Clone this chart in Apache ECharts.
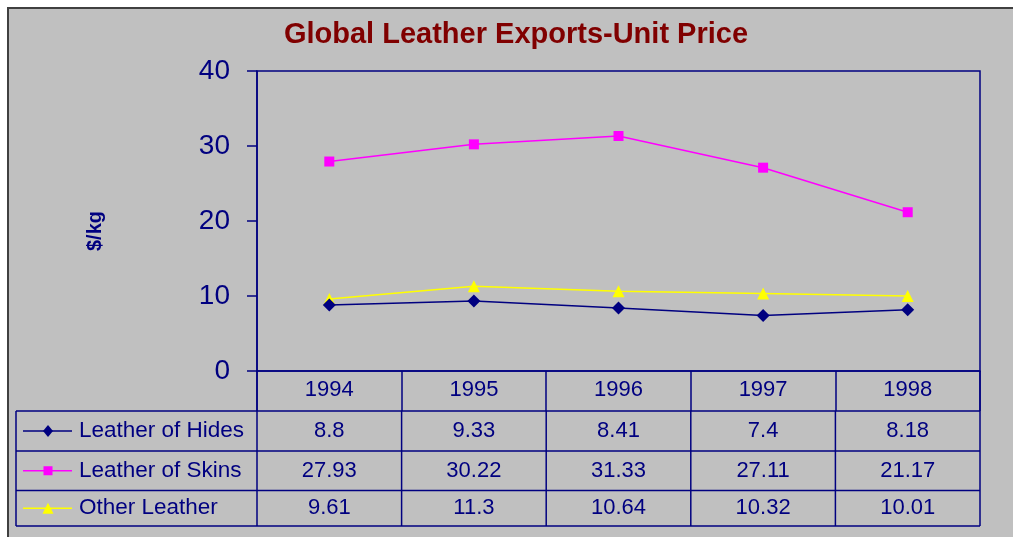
<!DOCTYPE html>
<html>
<head>
<meta charset="utf-8">
<script src="https://cdn.jsdelivr.net/npm/echarts@6/dist/echarts.min.js"></script>
<style>
    html, body { margin: 0; padding: 0; background: #fff; }
    #chart { width: 1013px; height: 537px; }
</style>
</head>
<body>
<div id="chart"></div>
<script>
// 数据
var years = ['1994', '1995', '1996', '1997', '1998'];
var seriesNames = ['Leather of Hides', 'Leather of Skins', 'Other Leather'];
var hides = [8.8, 9.33, 8.41, 7.4, 8.18];
var skins = [27.93, 30.22, 31.33, 27.11, 21.17];
var other = [9.61, 11.3, 10.64, 10.32, 10.01];
var yTicks = [0, 10, 20, 30, 40];

var navy = '#000080';
var font = "'Liberation Sans', Arial, sans-serif";
var colors = [navy, '#ff00ff', '#ffff00'];
var symbols = ['diamond', 'rect', 'triangle'];
var symbolSizes = [13, 10, 12];
var allData = [hides, skins, other];

var chart = echarts.init(document.getElementById('chart'));

var option = {
    backgroundColor: '#fff',
    animation: false,
    grid: {
        left: 257, top: 71, right: 33, bottom: 166,
        show: true, borderColor: navy, borderWidth: 1.5, backgroundColor: 'transparent'
    },
    xAxis: {
        type: 'category',
        data: years,
        boundaryGap: true,
        axisLine: { lineStyle: { color: navy, width: 1.5 } },
        axisTick: { show: true, interval: 0, length: 40, lineStyle: { color: navy, width: 1.5 } },
        axisLabel: { color: navy, fontSize: 22, fontFamily: font, margin: 8, interval: 0 }
    },
    yAxis: {
        type: 'value',
        min: yTicks[0],
        max: yTicks[yTicks.length - 1],
        interval: 10,
        axisLine: { show: true, lineStyle: { color: navy, width: 1.5 } },
        axisTick: { show: true, length: 10, lineStyle: { color: navy, width: 1.5 } },
        axisLabel: { color: navy, fontSize: 28, fontFamily: font, margin: 27 },
        splitLine: { show: false }
    },
    series: seriesNames.map(function (name, i) {
        return {
            name: name,
            type: 'line',
            data: allData[i],
            symbol: symbols[i],
            symbolSize: symbolSizes[i],
            showSymbol: true,
            lineStyle: { color: colors[i], width: 1.5 },
            itemStyle: { color: colors[i] },
            z: 10 - i
        };
    })
};
chart.setOption(option);

// 数据表 (画在坐标轴下方)
var gridLeft = 257, gridRight = 980, axisY = 371;
var rowLines = [axisY + 40, axisY + 80, axisY + 119.5, axisY + 155];
var tableLeft = 16;
var g = [];
var lineStyle = { stroke: navy, lineWidth: 1.5 };

// 灰色背景框
g.push({ type: 'rect', z: -10, silent: true,
    shape: { x: 8, y: 8, width: 1012, height: 540 },
    style: { fill: '#c0c0c0', stroke: '#404040', lineWidth: 2 } });

// 标题
g.push({ type: 'text', x: 516, y: 35,
    style: { text: 'Global Leather Exports-Unit Price', fill: '#800000',
        font: 'bold 29px ' + font, align: 'center', verticalAlign: 'middle' } });

// 纵轴名称
g.push({ type: 'text', x: 95, y: 231, rotation: Math.PI / 2,
    style: { text: '$/kg', fill: navy, font: 'bold 20px ' + font, align: 'center', verticalAlign: 'middle' } });

rowLines.forEach(function (y) {
    g.push({ type: 'line', shape: { x1: tableLeft, y1: y, x2: gridRight, y2: y }, style: lineStyle });
});
g.push({ type: 'line', shape: { x1: tableLeft, y1: rowLines[0], x2: tableLeft, y2: rowLines[3] }, style: lineStyle });
g.push({ type: 'line', shape: { x1: gridLeft, y1: axisY, x2: gridLeft, y2: rowLines[3] }, style: lineStyle });
g.push({ type: 'line', shape: { x1: gridRight, y1: axisY, x2: gridRight, y2: rowLines[3] }, style: lineStyle });

var colW = (gridRight - gridLeft) / years.length;
for (var c = 1; c < years.length; c++) {
    var bx = gridLeft + c * colW;
    g.push({ type: 'line', shape: { x1: bx, y1: rowLines[0], x2: bx, y2: rowLines[3] }, style: lineStyle });
}

seriesNames.forEach(function (name, r) {
    var cy = (rowLines[r] + rowLines[r + 1]) / 2;
    // 图例符号
    g.push({ type: 'line', shape: { x1: 23, y1: cy, x2: 72, y2: cy },
        style: { stroke: colors[r], lineWidth: 1.5 } });
    var s = symbolSizes[r] - 1;
    if (symbols[r] === 'rect') {
        g.push({ type: 'rect', shape: { x: 48 - s / 2, y: cy - s / 2, width: s, height: s }, style: { fill: colors[r] } });
    } else if (symbols[r] === 'diamond') {
        g.push({ type: 'polygon', shape: { points: [[48, cy - s / 2], [48 + s / 2.4, cy], [48, cy + s / 2], [48 - s / 2.4, cy]] }, style: { fill: colors[r] } });
    } else {
        g.push({ type: 'polygon', shape: { points: [[48, cy - s / 2], [48 + s / 2, cy + s / 2], [48 - s / 2, cy + s / 2]] }, style: { fill: colors[r] } });
    }
    g.push({ type: 'text', x: 79, y: cy,
        style: { text: name, fill: navy, font: '22.5px ' + font, verticalAlign: 'middle' } });
    allData[r].forEach(function (v, i) {
        var px = chart.convertToPixel({ xAxisIndex: 0 }, i);
        g.push({ type: 'text', x: px, y: cy,
            style: { text: String(v), fill: navy, font: '22px ' + font, align: 'center', verticalAlign: 'middle' } });
    });
});

chart.setOption({ graphic: g });
</script>
</body>
</html>
